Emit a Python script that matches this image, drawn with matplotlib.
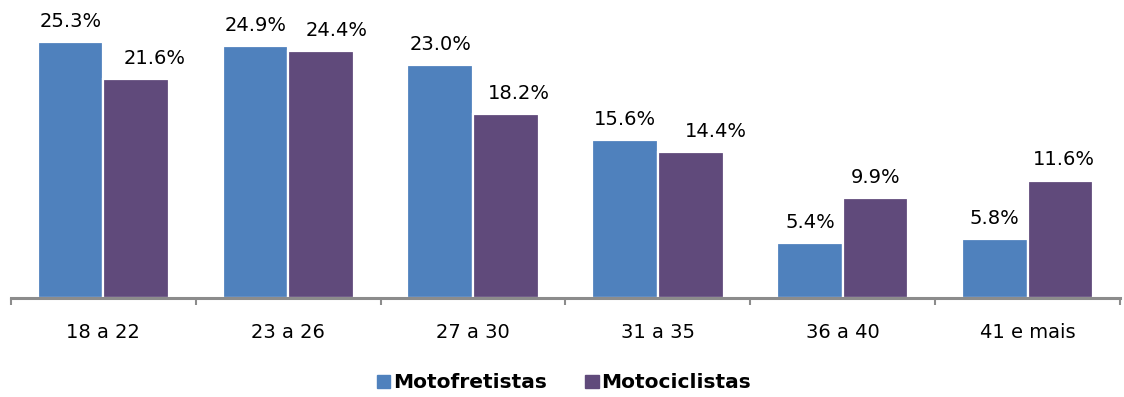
import matplotlib
matplotlib.use("Agg")
import matplotlib.pyplot as plt
import numpy as np
from matplotlib.patches import Patch

categories = ["18 a 22", "23 a 26", "27 a 30", "31 a 35", "36 a 40", "41 e mais"]
motofretistas = [25.3, 24.9, 23.0, 15.6, 5.4, 5.8]
motociclistas = [21.6, 24.4, 18.2, 14.4, 9.9, 11.6]
series_names = ["Motofretistas", "Motociclistas"]

blue = "#4F81BD"
purple = "#604A7B"
# horizontal nudge (pixels) of the second series' value labels
label_nudge = [18, 16, 13, 25, 0, 3]

plt.rcParams["font.family"] = ["DejaVu Sans"]

fig = plt.figure(figsize=(11.24, 3.97), dpi=100)
ax = fig.add_axes([11 / 1124, 99 / 397, 1109 / 1124, 286 / 397])

x = np.arange(len(categories))
w = 0.355
b1 = ax.bar(x - w / 2, motofretistas, width=w, color=blue, edgecolor="white", linewidth=1.6)
b2 = ax.bar(x + w / 2, motociclistas, width=w, color=purple, edgecolor="white", linewidth=1.6)

for bars, vals, nudges in ((b1, motofretistas, [0] * len(categories)),
                           (b2, motociclistas, label_nudge)):
    for rect, v, dx in zip(bars, vals, nudges):
        ax.annotate(f"{v:.1f}%", (rect.get_x() + rect.get_width() / 2, v),
                    xytext=(dx * 0.72, 8), textcoords="offset points",
                    ha="center", va="bottom", fontsize=14, color="black")

ax.set_xlim(-0.5, len(categories) - 0.5)
ax.set_ylim(0, 28.26)
ax.set_yticks([])
for s in ("top", "right", "left"):
    ax.spines[s].set_visible(False)
ax.spines["bottom"].set_color("#8C8C8C")
ax.spines["bottom"].set_linewidth(2.2)

ax.set_xticks(np.arange(-0.5, len(categories), 1.0))
ax.set_xticklabels([])
ax.tick_params(axis="x", which="major", length=5, width=1.5, color="#8C8C8C")
ax.set_xticks(x, minor=True)
ax.set_xticklabels(categories, minor=True, fontsize=14)
ax.tick_params(axis="x", which="minor", length=0, pad=18)

handles = [Patch(color=blue), Patch(color=purple)]
fig.legend(handles, series_names, loc="center", bbox_to_anchor=(0.502, 14 / 397),
           ncol=2, frameon=False, prop={"weight": "bold", "size": 14.5},
           handlelength=0.65, handleheight=0.65, handletextpad=0.15, columnspacing=1.9)

fig.savefig("out.png", dpi=100, facecolor="white")
